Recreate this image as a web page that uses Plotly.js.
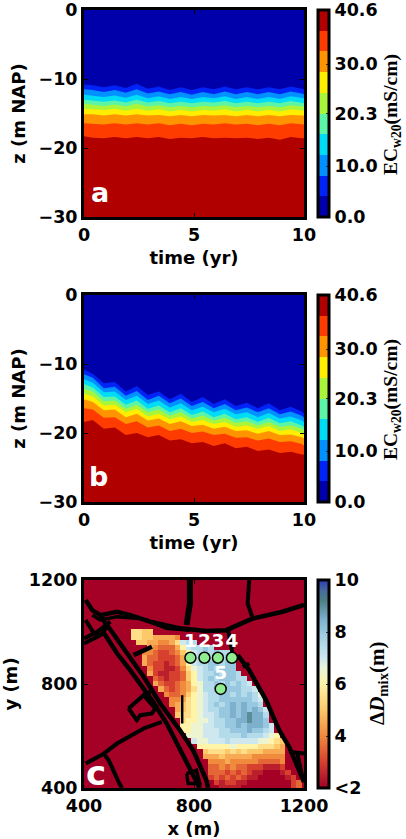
<!DOCTYPE html>
<html><head><meta charset="utf-8">
<script src="https://cdn.plot.ly/plotly-3.0.1.min.js"></script>
<style>html,body{margin:0;padding:0;background:#fff}#g{width:406px;height:839px}</style>
</head><body><div id="g"></div>
<script>
const time=[0,.4,.9,1.4,1.9,2.4,2.9,3.4,3.9,4.4,4.9,5.4,5.9,6.4,6.9,7.4,7.9,8.4,8.9,9.4,9.9,10];
const bandColors=['#0000aa','#0024f5','#0090ff','#00dcf5','#5cf5a8','#a8f53c','#ffee00','#ff9400','#ff3c00','#b00000'];
const ecTickVals=[0,10,20.3,30,40.6];
const ecTickText=['0.0','10.0','20.3','30.0','40.6'];
// depth of each band edge (m NAP), shallow to deep, panel a
const a1=[-10.8,-10.9,-11.2,-10.9,-11.3,-10.7,-11.4,-11.1,-11.6,-11.2,-11.6,-11.2,-11.5,-11.1,-11.5,-11.2,-11.5,-11.2,-11.5,-11.1,-11.4,-11.5];
const a2=[-11.5,-11.6,-11.9,-11.6,-12.0,-11.5,-12.1,-11.8,-12.2,-11.9,-12.3,-11.9,-12.2,-11.8,-12.2,-11.9,-12.2,-11.9,-12.2,-11.8,-12.1,-12.2];
const a3=[-12.3,-12.4,-12.6,-12.4,-12.7,-12.3,-12.8,-12.5,-12.9,-12.6,-12.9,-12.6,-12.8,-12.5,-12.9,-12.6,-12.9,-12.6,-12.9,-12.5,-12.8,-12.8];
const a4=[-13.0,-13.1,-13.3,-13.1,-13.4,-13.0,-13.4,-13.2,-13.5,-13.3,-13.5,-13.3,-13.4,-13.2,-13.5,-13.3,-13.5,-13.3,-13.5,-13.2,-13.4,-13.5];
const a5=[-13.6,-13.7,-13.9,-13.7,-14.0,-13.6,-14.0,-13.8,-14.1,-13.9,-14.1,-13.9,-14.0,-13.8,-14.1,-13.9,-14.1,-13.9,-14.1,-13.8,-14.0,-14.0];
const a6=[-14.3,-14.4,-14.5,-14.3,-14.6,-14.3,-14.6,-14.4,-14.7,-14.5,-14.7,-14.5,-14.6,-14.4,-14.7,-14.5,-14.7,-14.5,-14.7,-14.4,-14.6,-14.6];
const a7=[-15.1,-15.1,-15.3,-15.1,-15.3,-15.1,-15.3,-15.2,-15.4,-15.2,-15.4,-15.2,-15.3,-15.2,-15.4,-15.2,-15.4,-15.2,-15.4,-15.2,-15.3,-15.3];
const a8=[-16.4,-16.5,-16.6,-16.4,-16.6,-16.4,-16.6,-16.4,-16.7,-16.5,-16.7,-16.5,-16.6,-16.4,-16.6,-16.5,-16.7,-16.5,-16.7,-16.4,-16.6,-16.6];
const a9=[-18.3,-18.5,-18.6,-18.4,-18.6,-18.4,-18.6,-18.4,-18.7,-18.5,-18.6,-18.4,-18.6,-18.5,-18.6,-18.5,-18.7,-18.5,-18.8,-18.4,-18.6,-18.6];
// panel b
const b1=[-10.8,-11.4,-12.8,-12.6,-14.0,-13.2,-14.5,-14.0,-15.1,-14.3,-15.5,-14.8,-15.8,-15.1,-16.1,-15.6,-16.4,-15.7,-16.7,-16.2,-16.9,-17.2];
const b2=[-11.5,-12.0,-13.5,-13.3,-14.6,-13.9,-15.2,-14.6,-15.7,-15.0,-16.1,-15.5,-16.4,-15.8,-16.7,-16.3,-17.0,-16.4,-17.3,-16.9,-17.5,-17.8];
const b3=[-12.2,-12.7,-14.1,-14.0,-15.2,-14.6,-15.8,-15.3,-16.3,-15.7,-16.7,-16.2,-17.0,-16.5,-17.3,-17.0,-17.7,-17.1,-17.9,-17.6,-18.2,-18.4];
const b4=[-12.9,-13.4,-14.8,-14.7,-15.9,-15.3,-16.5,-16.0,-17.0,-16.4,-17.4,-16.9,-17.7,-17.2,-18.0,-17.7,-18.4,-17.8,-18.6,-18.3,-18.9,-19.1];
const b5=[-13.6,-14.0,-15.4,-15.3,-16.5,-15.9,-17.0,-16.6,-17.5,-17.0,-17.9,-17.5,-18.2,-17.8,-18.5,-18.3,-18.9,-18.4,-19.1,-18.9,-19.4,-19.6];
const b6=[-14.3,-14.7,-16.0,-15.9,-17.0,-16.5,-17.6,-17.2,-18.0,-17.6,-18.4,-18.1,-18.7,-18.4,-19.1,-18.9,-19.4,-19.0,-19.7,-19.5,-20.0,-20.2];
const b7=[-15.1,-15.5,-16.7,-16.6,-17.7,-17.2,-18.2,-17.9,-18.7,-18.3,-19.0,-18.8,-19.4,-19.1,-19.7,-19.6,-20.1,-19.7,-20.3,-20.2,-20.6,-20.8];
const b8=[-16.4,-16.6,-17.8,-17.7,-18.7,-18.3,-19.2,-18.9,-19.7,-19.4,-20.0,-19.8,-20.3,-20.1,-20.7,-20.6,-21.1,-20.8,-21.3,-21.2,-21.6,-21.8];
const b9=[-18.4,-18.1,-19.4,-19.2,-20.3,-20.0,-20.6,-20.3,-21.1,-20.9,-21.5,-21.3,-21.9,-21.5,-22.2,-22.0,-22.6,-22.4,-22.9,-22.7,-23.1,-23.1];
// panel c: mixing-depth cells on a 20 m grid; first character of each row is x=560
const plumeY=[1000,980,960,940,920,900,880,860,840,820,800,780,760,740,720,700,680,660,640,620,600,580,560,540,520,500,480,460,440,420,400];
const plumeRows=[
".7766",
".776655554",
"..66554457ABB",
"....5433358ABBCB",
"...443223468ABCBCBB",
"...533222358ABCBCBCB",
"...532212358ABBCCBCC",
"....422112479ABCBCCC",
"....521122368ABBCBCCB",
".....32122368ABCBCCCBB",
".....532234589BBCBCBCBA",
"......53234579BBCBCCCBBA",
".......4334689ABBCCBCBCB9",
"........445789ABBCCCCCCBA",
"........456789ABCBCDCDCCB",
".........56789ABBCCDCDCDCA",
".........67789AABCCDCDEDDB",
"..........78899ABBCCDDEDDC",
"..........8899AABBCCDCDDDCA",
"..........8899AAABBCCCDCCBA",
"...........999AAABBBBCBBBA98",
"............A99AAABAAAAA99876",
".............8888889888877765",
"..............677767676665555",
"..............555655555444444",
"...............44454444433334",
"...............33434332221112",
"...............333232321100012",
"...............2323232110000012",
"................2122110000000023",
".................111100000000023"];
const plumeCode='0123456789ABCDE';
const plumeVal=[2,2.5,3,3.5,4,4.5,5,5.5,6,6.5,7,7.5,8,8.5,9];
const gridX=[],gridY=[];
for(let v=400;v<=1200;v+=20){gridX.push(v);gridY.push(v);}
// roads, in metres
const road1X=[785,785,773],road1Y=[1200,1110,1027];
const road2X=[1001,995,1014],road2Y=[1200,1110,1052];
const road3X=[406,430,460,520,568,641,749,845,917,1014,1122,1200],road3Y=[1123,1084,1065,1078,1065,1040,1014,1004,1007,1052,1078,1104];
const road4X=[430,460,520,605,701,785],road4Y=[1065,1046,1059,1052,1014,1007];
const road5X=[400,460,484,460],road5Y=[956,988,1020,1065];
const road6X=[406,436,460],road6Y=[1046,995,988];
const road7X=[400,448,496],road7Y=[975,1001,1040];
const road8X=[484,532,617,677,749,797,845,851],road8Y=[1027,956,828,725,622,545,430,400];
const road9X=[466,520,568,647,701,761,821],road9Y=[1007,918,853,738,648,526,400];
const road10X=[580,647],road10Y=[911,943];
const road11X=[562,617,659,647,605,592,562],road11Y=[706,757,706,687,680,661,706];
const road12X=[617,641],road12Y=[757,770];
const road13X=[406,472,520,617,683],road13Y=[494,532,571,629,654];
const road14X=[472,490,526,538],road14Y=[532,507,423,400];
const road15X=[757,757],road15Y=[757,648];
const road16X=[773,809,821,779,773],road16Y=[455,468,417,417,455];
const road17X=[923,941],road17Y=[1014,911];
const road18X=[959,1001,1038,1062,1110,1146,1200],road18Y=[911,853,783,738,622,558,423];
const road19X=[977,1001],road19Y=[866,879];
const road20X=[1146,1200],road20Y=[539,533];
const road21X=[1176,1194],road21Y=[533,443];
const wellX=[787,838,887,938,897],wellY=[901,901,901,901,781],wellLabels=['1','2','3','4','5'];
const wellLabelY=[960,960,960,960,838];
const dmixTickVals=[2,4,6,8,10],dmixTickText=['<2','4','6','8','10'];
const dmixScale=[[0,'#a50026'],[.06,'#b81f2c'],[.125,'#d7402e'],[.25,'#f08a3c'],[.375,'#fdc86a'],[.5,'#fff4a8'],[.58,'#e8f4dc'],[.625,'#cfe8f0'],[.6875,'#b4dbea'],[.75,'#98c8e0'],[.8125,'#7cb0cc'],[.9,'#4d7f86'],[.95,'#476a9e'],[1,'#2a3cb8']];

const W=406,H=839,sans='"DejaVu Sans"',serif='"Liberation Serif"';
const tickFont={family:sans,size:17.5,color:'#000',weight:700};
const dx=[84/W,304/W];
function dom(t,b){return [1-b/H,1-t/H];}
function axis(extra){return Object.assign({showline:true,linewidth:3,linecolor:'#000',mirror:'allticks',ticks:'inside',ticklen:4,tickwidth:1,tickcolor:'#000',showgrid:false,zeroline:false,tickfont:tickFont,fixedrange:true},extra);}
function title(t,standoff){return {text:t,font:{family:sans,size:18,color:'#000',weight:700},standoff:standoff};}
const ecScale=[];bandColors.forEach((c,i)=>{ecScale.push([i/10,c]);ecScale.push([(i+1)/10,c]);});
function cbar(t,b,vals,text){return {x:318/W,xanchor:'left',y:1-t/H,yanchor:'top',len:(b-t)/H,lenmode:'fraction',thickness:11,thicknessmode:'pixels',xpad:0,ypad:0,outlinewidth:3,outlinecolor:'#000',ticks:'inside',ticklen:4,tickwidth:1,tickcolor:'#333',tickvals:vals,ticktext:text,tickfont:tickFont,ticklabelposition:'outside'};}
const data=[];
function bands(edges,xa,ya,t,b){
  for(let k=edges.length-1;k>=0;k--){
    data.push({type:'scatter',mode:'lines',x:time,y:edges[k],xaxis:xa,yaxis:ya,fill:'tozeroy',fillcolor:bandColors[k],line:{width:0,color:bandColors[k]},hoverinfo:'skip',showlegend:false});
  }
  data.push({type:'scatter',mode:'markers',x:[null],y:[null],xaxis:xa,yaxis:ya,showlegend:false,marker:{size:1,color:[0],cmin:0,cmax:40.6,colorscale:ecScale,showscale:true,colorbar:cbar(t,b,ecTickVals,ecTickText)}});
}
bands([a1,a2,a3,a4,a5,a6,a7,a8,a9],'x','y',10,217);
bands([b1,b2,b3,b4,b5,b6,b7,b8,b9],'x2','y2',295,502);
const dmix=gridY.map(y=>{const r=plumeY.indexOf(y);const s=r<0?'':plumeRows[r];
  return gridX.map(x=>{const c=s[(x-560)/20];const n=c===undefined?-1:plumeCode.indexOf(c);return n<0?2:plumeVal[n];});});
data.push({type:'heatmap',x:gridX,y:gridY,z:dmix,xaxis:'x3',yaxis:'y3',zmin:2,zmax:10,colorscale:dmixScale,zsmooth:false,hoverinfo:'skip',colorbar:cbar(580,788,dmixTickVals,dmixTickText)});
const roads=[[road1X,road1Y,6],[road2X,road2Y,4],[road3X,road3Y,4.5],[road4X,road4Y,3.5],[road5X,road5Y,4],[road6X,road6Y,4],[road7X,road7Y,4],[road8X,road8Y,4.5],[road9X,road9Y,4.5],[road10X,road10Y,4.5],[road11X,road11Y,4],[road12X,road12Y,4],[road13X,road13Y,4],[road14X,road14Y,4],[road15X,road15Y,2.5],[road16X,road16Y,3.5],[road17X,road17Y,4],[road18X,road18Y,4.5],[road19X,road19Y,4],[road20X,road20Y,4],[road21X,road21Y,4]];
roads.forEach(r=>data.push({type:'scatter',mode:'lines',x:r[0],y:r[1],xaxis:'x3',yaxis:'y3',line:{color:'#000',width:r[2]},hoverinfo:'skip',showlegend:false}));
data.push({type:'scatter',mode:'markers',x:wellX,y:wellY,xaxis:'x3',yaxis:'y3',marker:{size:11,color:'#90ee90',line:{color:'#000',width:1.5}},hoverinfo:'skip',showlegend:false});
data.push({type:'scatter',mode:'text',x:wellX,y:wellLabelY,text:wellLabels,textposition:'middle center',textfont:{family:sans,size:18.5,color:'#fff',weight:700},xaxis:'x3',yaxis:'y3',hoverinfo:'skip',showlegend:false});

function note(text,x,y,size,family,angle,color){return {text:text,x:x,y:y,xref:'paper',yref:'paper',showarrow:false,xanchor:'center',yanchor:'middle',textangle:angle||0,font:{family:family||sans,size:size,color:color||'#000',weight:700}};}
const layout={width:W,height:H,margin:{l:0,r:0,t:0,b:0},paper_bgcolor:'#fff',plot_bgcolor:'#b00000',showlegend:false,
 xaxis:axis({domain:dx,anchor:'y',range:[0,10],tickvals:[0,5,10],title:title('time (yr)',8)}),
 yaxis:axis({domain:dom(10,217),anchor:'x',range:[-30,0],tickvals:[0,-10,-20,-30],title:title('z (m NAP)',9)}),
 xaxis2:axis({domain:dx,anchor:'y2',range:[0,10],tickvals:[0,5,10],title:title('time (yr)',8)}),
 yaxis2:axis({domain:dom(295,502),anchor:'x2',range:[-30,0],tickvals:[0,-10,-20,-30],title:title('z (m NAP)',9)}),
 xaxis3:axis({domain:dx,anchor:'y3',range:[400,1200],tickvals:[400,800,1200],title:title('x (m)',8)}),
 yaxis3:axis({domain:dom(580,788),anchor:'x3',range:[400,1200],tickvals:[400,800,1200],title:title('y (m)',9)}),
 annotations:[
  note('a',100/W,1-192/H,27,sans,0,'#fff'),
  note('b',98/W,1-476/H,27,sans,0,'#fff'),
  note('c',96/W,1-773/H,34,sans,0,'#fff'),
  note('EC<sub>w20</sub>(mS/cm)',392/W,1-115/H,19.5,serif,-90),
  note('EC<sub>w20</sub>(mS/cm)',392/W,1-400/H,19.5,serif,-90),
  note('Δ<i>D</i><sub>mix</sub>(m)',378/W,1-683/H,21,serif,-90)
 ]
};
Plotly.newPlot('g',data,layout,{displayModeBar:false,staticPlot:true});
</script></body></html>
